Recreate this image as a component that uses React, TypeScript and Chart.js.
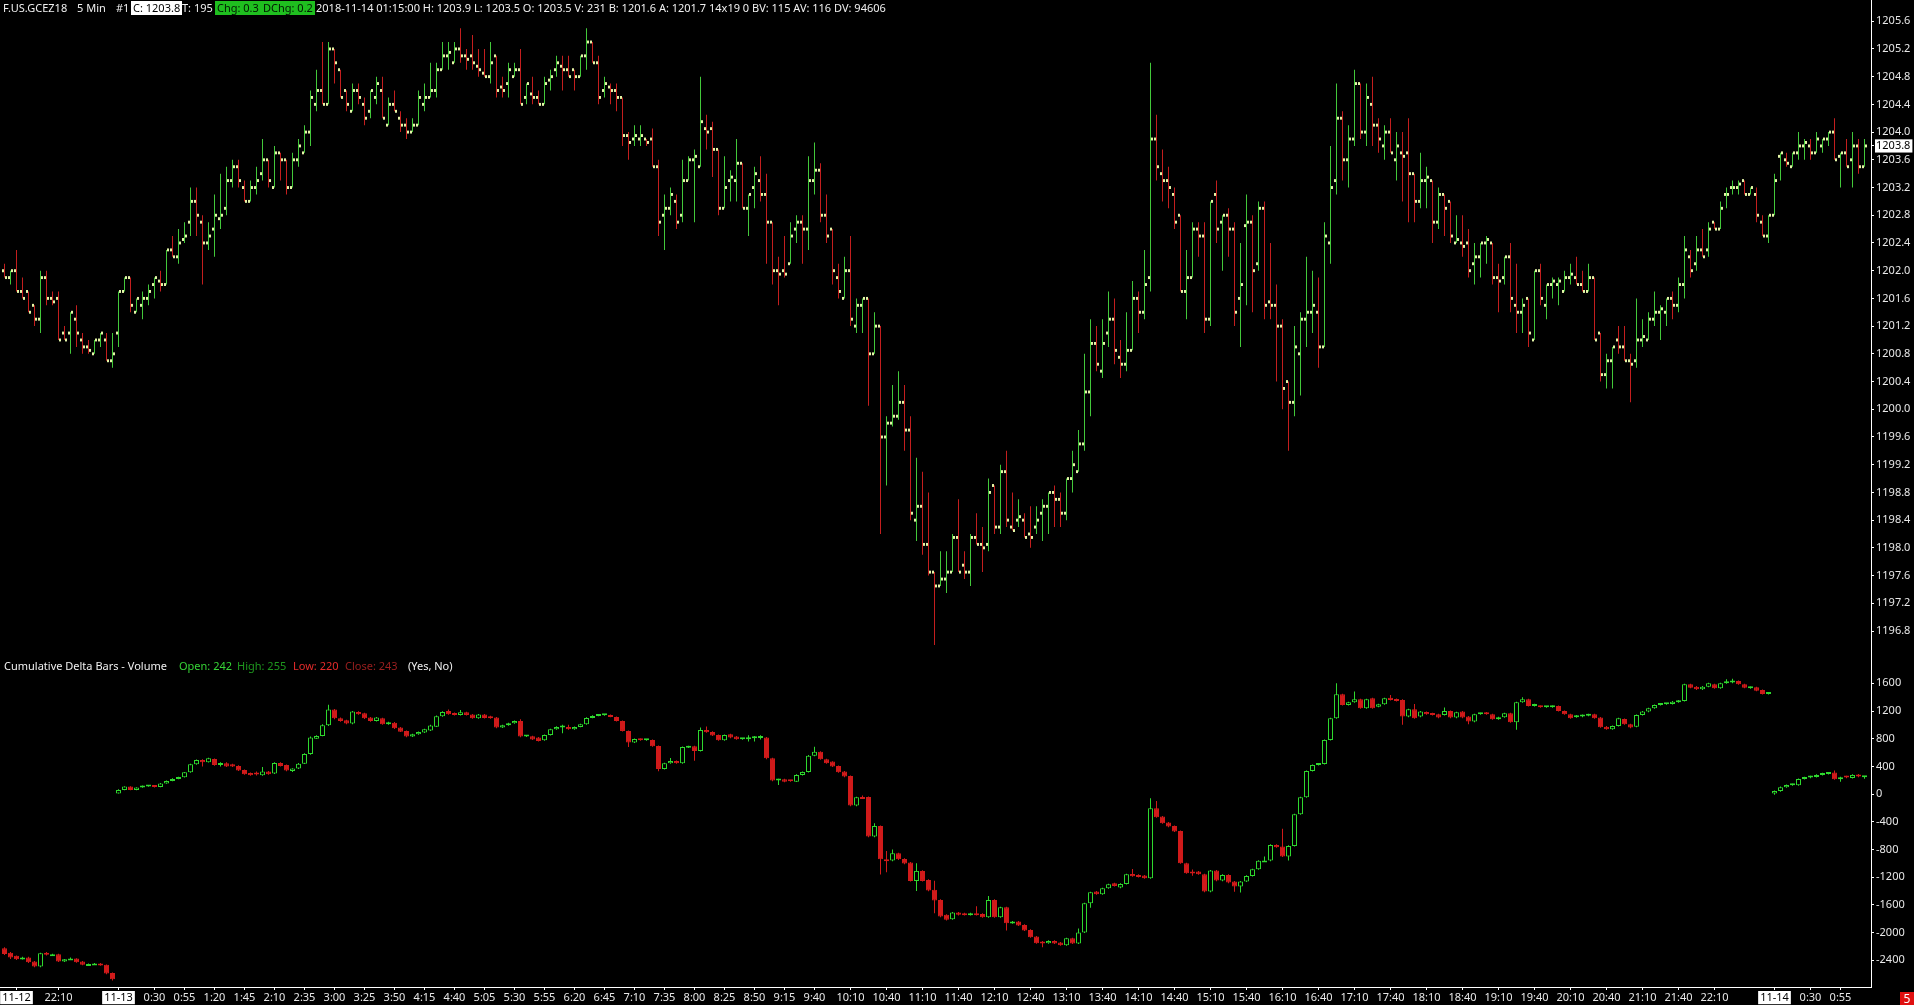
import React, { useEffect, useRef } from "react";
import { Chart, registerables } from "chart.js";

Chart.register(...registerables);

const CANVAS_W = 1914;
const CANVAS_H = 1005;
const FONT = '"Noto Sans", "DejaVu Sans", sans-serif';

const sessions = [
  { date: "11-12", start: "21:25", bars: 19 },
  { date: "11-13", start: "0:00", bars: 276 },
  { date: "11-14", start: "0:00", bars: 16 },
];

const categories: string[] = sessions.flatMap((s) => {
  const [h, m] = s.start.split(":").map(Number);
  return Array.from({ length: s.bars }, (_, k) => {
    const t = h * 60 + m + 5 * k;
    return `${s.date} ${Math.floor(t / 60)}:${String(t % 60).padStart(2, "0")}`;
  });
});

const day13TickTimes = [
  "0:30", "0:55", "1:20", "1:45", "2:10", "2:35", "3:00", "3:25", "3:50", "4:15", "4:40", "5:05",
  "5:30", "5:55", "6:20", "6:45", "7:10", "7:35", "8:00", "8:25", "8:50", "9:15", "9:40", "10:10",
  "10:40", "11:10", "11:40", "12:10", "12:40", "13:10", "13:40", "14:10", "14:40", "15:10", "15:40",
  "16:10", "16:40", "17:10", "17:40", "18:10", "18:40", "19:10", "19:40", "20:10", "20:40", "21:10",
  "21:40", "22:10",
];

const xAxisTicks: [string, string][] = [
  ["11-12 21:35", "11-12"],
  ["11-12 22:10", "22:10"],
  ["11-13 0:00", "11-13"],
  ...day13TickTimes.map((t) => [`11-13 ${t}`, t] as [string, string]),
  ["11-14 0:00", "11-14"],
  ["11-14 0:30", "0:30"],
  ["11-14 0:55", "0:55"],
];

const priceOpen = [
  1202.0, 1201.9, 1202.0, 1201.7, 1201.7, 1201.5, 1201.3, 1201.9, 1201.6, 1201.6,
  1201.1, 1201.1, 1201.3, 1201.0, 1200.9, 1200.8, 1201.0, 1201.0, 1200.7, 1201.1,
  1201.7, 1201.9, 1201.4, 1201.5, 1201.6, 1201.8, 1201.85, 1201.8, 1202.3, 1202.2,
  1202.45, 1202.7, 1203.0, 1202.7, 1202.4, 1202.6, 1202.75, 1202.9, 1203.3, 1203.5,
  1203.2, 1203.0, 1203.2, 1203.4, 1203.6, 1203.2, 1203.7, 1203.6, 1203.2, 1203.6,
  1203.7, 1204.0, 1204.4, 1204.6, 1204.4, 1205.2, 1204.9, 1204.6, 1204.3, 1204.6,
  1204.4, 1204.3, 1204.5, 1204.6, 1204.1, 1204.4, 1204.2, 1204.1, 1204.0, 1204.1,
  1204.4, 1204.5, 1204.6, 1204.9, 1205.1, 1205.0, 1205.2, 1205.1, 1205.1, 1204.95,
  1204.85, 1204.8, 1205.1, 1204.65, 1204.7, 1204.8, 1204.9, 1204.5, 1204.55, 1204.5,
  1204.4, 1204.75, 1204.9, 1204.95, 1204.9, 1204.9, 1204.8, 1205.1, 1205.3, 1205.0,
  1204.6, 1204.65, 1204.6, 1204.5, 1203.95, 1203.9, 1203.9, 1203.9, 1203.9, 1203.5,
  1202.8, 1202.9, 1203.0, 1202.8, 1203.3, 1203.6, 1203.5, 1204.05, 1204.05, 1203.75,
  1202.9, 1203.3, 1203.3, 1203.55, 1202.9, 1203.2, 1203.3, 1203.1, 1202.7, 1202.0,
  1202.0, 1202.1, 1202.6, 1202.7, 1202.6, 1203.3, 1203.45, 1202.8, 1202.6, 1201.9,
  1201.6, 1202.0, 1201.2, 1201.5, 1201.6, 1200.8, 1201.2, 1199.6, 1199.8, 1199.9,
  1200.1, 1199.7, 1198.4, 1198.6, 1198.05, 1197.65, 1197.45, 1197.55, 1197.65, 1198.15,
  1197.75, 1197.65, 1198.15, 1198.05, 1198.05, 1198.9, 1198.3, 1199.1, 1198.3, 1198.4,
  1198.4, 1198.2, 1198.3, 1198.5, 1198.6, 1198.8, 1198.7, 1198.5, 1199.0, 1199.1,
  1199.5, 1200.25, 1200.95, 1200.55, 1201.1, 1201.3, 1200.75, 1200.65, 1200.85, 1201.6,
  1201.4, 1201.9, 1203.9, 1203.4, 1203.3, 1203.1, 1202.8, 1201.7, 1201.9, 1202.6,
  1202.5, 1201.3, 1203.1, 1202.7, 1202.8, 1202.6, 1201.6, 1202.65, 1202.7, 1202.1,
  1202.9, 1201.55, 1201.5, 1201.2, 1200.4, 1200.1, 1200.8, 1201.3, 1201.4, 1201.4,
  1200.9, 1202.4, 1203.3, 1204.2, 1203.6, 1203.9, 1204.7, 1204.0, 1204.4, 1204.1,
  1203.8, 1204.0, 1203.6, 1203.7, 1203.7, 1203.4, 1203.0, 1203.3, 1203.3, 1202.7,
  1203.1, 1203.0, 1202.4, 1202.4, 1202.4, 1202.1, 1202.2, 1202.4, 1202.4, 1201.9,
  1201.9, 1202.2, 1201.5, 1201.4, 1201.6, 1201.0, 1202.0, 1201.5, 1201.8, 1201.8,
  1201.7, 1201.9, 1201.9, 1201.8, 1201.7, 1201.9, 1201.1, 1200.5, 1200.7, 1201.0,
  1200.9, 1200.7, 1200.7, 1201.0, 1201.0, 1201.3, 1201.4, 1201.4, 1201.6, 1201.5,
  1201.8, 1202.2, 1202.1, 1202.3, 1202.3, 1202.7, 1202.6, 1203.1, 1203.2, 1203.2,
  1203.3, 1203.1, 1203.1, 1202.7, 1202.5, 1202.8, 1203.65, 1203.6, 1203.5, 1203.7,
  1203.8, 1203.8, 1203.7, 1203.8, 1203.9, 1204.0, 1203.65, 1203.7, 1203.6, 1203.8,
  1203.5,
];

const priceHigh = [
  1202.1, 1202.0, 1202.3, 1201.9, 1201.7, 1201.5, 1202.0, 1202.0, 1201.7, 1201.7,
  1201.2, 1201.4, 1201.5, 1201.1, 1201.0, 1201.0, 1201.1, 1201.1, 1201.1, 1201.7,
  1201.9, 1201.9, 1201.6, 1201.7, 1201.8, 1201.9, 1202.0, 1202.3, 1202.5, 1202.6,
  1202.7, 1203.2, 1203.2, 1202.8, 1202.7, 1203.1, 1203.4, 1203.5, 1203.6, 1203.6,
  1203.3, 1203.3, 1203.5, 1203.9, 1203.6, 1203.8, 1203.7, 1203.6, 1203.7, 1203.9,
  1204.1, 1204.6, 1204.9, 1205.3, 1205.3, 1205.2, 1204.9, 1204.6, 1204.7, 1204.7,
  1204.5, 1204.6, 1204.8, 1204.8, 1204.5, 1204.6, 1204.3, 1204.2, 1204.2, 1204.6,
  1204.7, 1205.0, 1205.0, 1205.3, 1205.3, 1205.3, 1205.5, 1205.2, 1205.4, 1205.2,
  1205.2, 1205.3, 1205.1, 1204.8, 1205.0, 1205.0, 1205.2, 1204.7, 1204.8, 1204.6,
  1204.8, 1204.9, 1205.1, 1205.1, 1205.1, 1204.9, 1205.1, 1205.5, 1205.3, 1205.1,
  1204.8, 1204.7, 1204.7, 1204.5, 1204.0, 1204.1, 1204.1, 1203.9, 1204.05, 1203.6,
  1203.1, 1203.2, 1203.1, 1203.6, 1203.65, 1203.75, 1204.8, 1204.25, 1204.15, 1203.75,
  1203.65, 1203.45, 1203.9, 1203.55, 1203.1, 1203.5, 1203.65, 1203.4, 1202.7, 1202.2,
  1202.5, 1202.7, 1202.8, 1202.8, 1203.65, 1203.85, 1203.55, 1203.1, 1202.6, 1202.1,
  1202.2, 1202.5, 1201.6, 1201.6, 1201.6, 1201.4, 1201.2, 1199.9, 1200.35, 1200.55,
  1200.35, 1199.9, 1199.3, 1199.1, 1198.8, 1197.65, 1197.95, 1197.95, 1198.2, 1198.7,
  1197.95, 1198.2, 1198.5, 1198.3, 1199.0, 1198.9, 1199.2, 1199.4, 1198.8, 1198.7,
  1198.5, 1198.6, 1198.6, 1198.7, 1198.8, 1198.9, 1198.8, 1199.0, 1199.4, 1199.7,
  1200.8, 1201.3, 1201.2, 1201.3, 1201.7, 1201.6, 1201.0, 1201.4, 1201.85, 1201.7,
  1202.3, 1205.0, 1204.25, 1203.75, 1203.5, 1203.2, 1202.8, 1202.3, 1202.7, 1202.7,
  1202.7, 1203.0, 1203.3, 1202.8, 1202.9, 1202.7, 1202.4, 1203.1, 1202.8, 1203.0,
  1203.0, 1202.4, 1201.8, 1201.3, 1200.4, 1201.2, 1201.4, 1202.2, 1202.0, 1201.9,
  1202.7, 1203.8, 1204.7, 1204.3, 1204.1, 1204.9, 1204.7, 1204.7, 1204.8, 1204.2,
  1204.1, 1204.2, 1204.0, 1204.0, 1204.2, 1203.4, 1203.7, 1203.5, 1203.3, 1203.2,
  1203.1, 1203.0, 1202.8, 1202.8, 1202.6, 1202.4, 1202.4, 1202.5, 1202.4, 1202.1,
  1202.2, 1202.4, 1202.1, 1201.6, 1201.6, 1202.0, 1202.1, 1201.8, 1201.9, 1201.9,
  1202.0, 1202.1, 1202.2, 1202.0, 1202.1, 1201.9, 1201.1, 1200.8, 1200.9, 1201.2,
  1201.2, 1200.8, 1201.6, 1201.3, 1201.4, 1201.7, 1201.5, 1201.6, 1201.7, 1201.9,
  1202.5, 1202.3, 1202.5, 1202.6, 1202.7, 1202.7, 1203.0, 1203.2, 1203.3, 1203.3,
  1203.3, 1203.2, 1203.2, 1202.8, 1202.8, 1203.4, 1203.7, 1203.7, 1203.7, 1204.0,
  1203.9, 1203.9, 1204.0, 1203.9, 1204.0, 1204.2, 1203.7, 1203.9, 1204.0, 1203.9,
  1203.9,
];

const priceLow = [
  1201.9, 1201.8, 1201.7, 1201.6, 1201.4, 1201.2, 1201.1, 1201.5, 1201.5, 1201.0,
  1201.0, 1200.8, 1200.9, 1200.8, 1200.8, 1200.8, 1200.9, 1200.7, 1200.6, 1200.9,
  1201.7, 1201.4, 1201.4, 1201.3, 1201.5, 1201.6, 1201.7, 1201.8, 1202.2, 1202.1,
  1202.4, 1202.5, 1202.5, 1201.8, 1202.3, 1202.2, 1202.6, 1202.8, 1203.2, 1203.2,
  1203.0, 1203.0, 1203.1, 1203.3, 1203.2, 1203.2, 1203.3, 1203.1, 1203.2, 1203.5,
  1203.7, 1203.8, 1204.3, 1204.4, 1204.4, 1204.7, 1204.5, 1204.3, 1204.3, 1204.4,
  1204.1, 1204.2, 1204.4, 1204.2, 1204.1, 1204.3, 1204.0, 1203.9, 1204.0, 1204.1,
  1204.3, 1204.5, 1204.5, 1204.9, 1204.9, 1205.0, 1205.0, 1204.9, 1204.9, 1204.8,
  1204.8, 1204.7, 1204.5, 1204.5, 1204.5, 1204.8, 1204.4, 1204.4, 1204.4, 1204.4,
  1204.4, 1204.6, 1204.8, 1204.6, 1204.8, 1204.6, 1204.8, 1204.9, 1205.0, 1204.4,
  1204.5, 1204.4, 1204.3, 1203.8, 1203.6, 1203.8, 1203.8, 1203.8, 1203.5, 1202.5,
  1202.3, 1202.8, 1202.6, 1202.7, 1203.3, 1202.7, 1203.5, 1203.75, 1203.35, 1202.8,
  1202.9, 1203.0, 1203.0, 1202.9, 1202.5, 1202.9, 1203.0, 1202.1, 1201.8, 1201.5,
  1201.9, 1202.1, 1202.4, 1202.1, 1202.3, 1203.1, 1202.7, 1202.4, 1201.8, 1201.6,
  1201.6, 1201.2, 1201.1, 1201.1, 1200.05, 1200.8, 1198.2, 1198.9, 1199.75, 1199.85,
  1199.4, 1198.4, 1198.1, 1197.9, 1197.6, 1196.6, 1197.45, 1197.35, 1197.65, 1197.65,
  1197.55, 1197.45, 1198.05, 1197.65, 1197.95, 1198.2, 1198.2, 1198.3, 1198.25, 1198.3,
  1198.15, 1198.0, 1198.2, 1198.1, 1198.2, 1198.3, 1198.3, 1198.4, 1198.8, 1199.1,
  1199.4, 1199.9, 1200.55, 1200.45, 1200.9, 1200.65, 1200.45, 1200.55, 1200.85, 1201.1,
  1201.3, 1201.7, 1203.3, 1203.0, 1202.9, 1202.6, 1201.7, 1201.3, 1201.9, 1202.2,
  1201.1, 1201.2, 1202.4, 1202.0, 1202.2, 1201.2, 1200.9, 1201.5, 1201.4, 1202.0,
  1201.3, 1201.3, 1200.4, 1200.0, 1199.4, 1199.9, 1200.2, 1200.9, 1201.1, 1200.6,
  1200.9, 1202.1, 1203.1, 1203.3, 1203.2, 1203.8, 1203.9, 1203.8, 1203.8, 1203.7,
  1203.6, 1203.7, 1203.3, 1203.0, 1202.7, 1202.7, 1202.9, 1202.9, 1202.4, 1202.6,
  1202.5, 1202.4, 1202.4, 1202.2, 1201.9, 1201.8, 1201.9, 1202.1, 1201.8, 1201.4,
  1201.8, 1201.4, 1201.1, 1201.1, 1200.9, 1201.0, 1201.5, 1201.3, 1201.6, 1201.5,
  1201.7, 1201.8, 1201.8, 1201.7, 1201.7, 1201.0, 1200.4, 1200.3, 1200.3, 1200.8,
  1200.7, 1200.1, 1200.6, 1200.9, 1201.0, 1201.2, 1201.0, 1201.2, 1201.3, 1201.4,
  1201.6, 1201.9, 1202.0, 1202.2, 1202.2, 1202.6, 1202.6, 1202.9, 1203.1, 1203.1,
  1203.1, 1203.1, 1202.7, 1202.5, 1202.4, 1202.8, 1203.3, 1203.5, 1203.5, 1203.6,
  1203.6, 1203.6, 1203.7, 1203.7, 1203.8, 1203.6, 1203.2, 1203.5, 1203.2, 1203.4,
  1203.5,
];

const priceClose = [
  1201.9, 1202.0, 1201.7, 1201.6, 1201.4, 1201.3, 1201.9, 1201.6, 1201.55, 1201.0,
  1201.0, 1201.4, 1201.1, 1200.9, 1200.85, 1201.0, 1201.1, 1200.7, 1200.8, 1201.7,
  1201.9, 1201.5, 1201.6, 1201.6, 1201.7, 1201.9, 1201.8, 1202.3, 1202.2, 1202.4,
  1202.5, 1203.0, 1202.8, 1202.4, 1202.5, 1202.8, 1202.8, 1203.3, 1203.5, 1203.3,
  1203.0, 1203.2, 1203.3, 1203.6, 1203.3, 1203.7, 1203.6, 1203.2, 1203.6, 1203.8,
  1204.0, 1204.5, 1204.6, 1204.4, 1205.2, 1205.0, 1204.5, 1204.4, 1204.6, 1204.5,
  1204.2, 1204.6, 1204.7, 1204.2, 1204.4, 1204.3, 1204.1, 1204.0, 1204.1, 1204.5,
  1204.5, 1204.6, 1204.9, 1205.1, 1205.15, 1205.2, 1205.1, 1205.05, 1205.0, 1204.9,
  1204.8, 1205.0, 1204.6, 1204.6, 1204.9, 1204.9, 1204.4, 1204.7, 1204.5, 1204.4,
  1204.7, 1204.8, 1205.0, 1204.9, 1204.8, 1204.8, 1205.1, 1205.3, 1205.0, 1204.5,
  1204.7, 1204.6, 1204.5, 1203.95, 1203.85, 1203.95, 1203.95, 1203.85, 1203.5, 1202.7,
  1202.9, 1203.1, 1202.7, 1203.3, 1203.6, 1203.65, 1204.15, 1204.0, 1203.75, 1202.9,
  1203.2, 1203.35, 1203.55, 1202.9, 1203.1, 1203.4, 1203.1, 1202.7, 1202.0, 1201.95,
  1201.95, 1202.5, 1202.7, 1202.6, 1203.3, 1203.45, 1202.8, 1202.5, 1202.0, 1201.7,
  1202.0, 1201.3, 1201.5, 1201.6, 1200.8, 1201.2, 1199.6, 1199.8, 1199.9, 1200.1,
  1199.7, 1198.5, 1198.6, 1198.05, 1197.65, 1197.45, 1197.55, 1197.65, 1198.15, 1197.65,
  1197.65, 1198.15, 1198.05, 1198.0, 1198.8, 1198.3, 1199.1, 1198.4, 1198.25, 1198.45,
  1198.15, 1198.15, 1198.4, 1198.6, 1198.8, 1198.7, 1198.5, 1199.0, 1199.2, 1199.5,
  1200.25, 1200.95, 1200.65, 1200.95, 1201.3, 1200.85, 1200.65, 1200.85, 1201.6, 1201.4,
  1201.8, 1203.9, 1203.5, 1203.3, 1203.2, 1202.7, 1201.7, 1201.9, 1202.6, 1202.5,
  1201.3, 1203.0, 1202.6, 1202.8, 1202.6, 1201.4, 1201.8, 1202.7, 1202.0, 1202.9,
  1201.5, 1201.5, 1201.2, 1200.3, 1200.1, 1200.9, 1201.3, 1201.4, 1201.5, 1200.9,
  1202.5, 1203.2, 1204.2, 1203.6, 1203.9, 1204.7, 1204.0, 1204.5, 1204.1, 1203.9,
  1204.0, 1203.7, 1203.8, 1203.65, 1203.4, 1203.0, 1203.3, 1203.35, 1202.7, 1203.1,
  1202.9, 1202.5, 1202.45, 1202.35, 1202.0, 1202.2, 1202.4, 1202.45, 1201.9, 1201.85,
  1202.2, 1201.6, 1201.4, 1201.5, 1201.1, 1202.0, 1201.6, 1201.8, 1201.85, 1201.85,
  1201.9, 1201.95, 1201.8, 1201.7, 1201.9, 1201.0, 1200.5, 1200.7, 1200.9, 1200.9,
  1200.7, 1200.65, 1201.0, 1201.05, 1201.3, 1201.4, 1201.45, 1201.6, 1201.5, 1201.8,
  1202.3, 1202.0, 1202.3, 1202.2, 1202.6, 1202.6, 1202.9, 1203.1, 1203.2, 1203.25,
  1203.1, 1203.2, 1202.8, 1202.5, 1202.8, 1203.3, 1203.7, 1203.55, 1203.7, 1203.8,
  1203.85, 1203.7, 1203.9, 1203.9, 1204.0, 1203.6, 1203.7, 1203.5, 1203.8, 1203.5,
  1203.8,
];

const deltaOpen = [
  -2226, -2290, -2336, -2384, -2360, -2418, -2490, -2290, -2322, -2312,
  -2418, -2384, -2375, -2418, -2466, -2452, -2447, -2466, -2582, 10,
  60, 108, 60, 94, 108, 118, 103, 152, 190, 219,
  243, 315, 431, 493, 460, 507, 421, 445, 431, 407,
  349, 306, 287, 272, 325, 296, 450, 421, 335, 368,
  440, 580, 801, 840, 994, 1220, 1095, 1066, 1018, 1186,
  1167, 1105, 1056, 1095, 1008, 1032, 960, 912, 830, 864,
  888, 917, 974, 1124, 1200, 1172, 1143, 1182, 1148, 1095,
  1148, 1124, 1105, 960, 994, 1022, 1056, 830, 835, 816,
  777, 854, 936, 960, 970, 936, 970, 1008, 1100, 1129,
  1138, 1143, 1114, 1056, 912, 744, 796, 777, 782, 696,
  363, 445, 479, 445, 671, 690, 623, 926, 898, 854,
  777, 864, 830, 792, 792, 806, 811, 816, 517, 195,
  214, 190, 180, 277, 320, 555, 610, 503, 469, 407,
  325, 262, -166, -41, -41, -614, -460, -941, -960, -854,
  -936, -989, -1254, -1109, -1239, -1383, -1528, -1744, -1807, -1711,
  -1720, -1744, -1720, -1730, -1778, -1528, -1778, -1634, -1865, -1840,
  -1889, -1961, -2057, -2130, -2153, -2120, -2144, -2182, -2081, -2158,
  -1999, -1576, -1408, -1446, -1360, -1287, -1350, -1297, -1152, -1167,
  -1177, -1215, -205, -325, -411, -460, -532, -998, -1119, -1119,
  -1157, -1408, -1104, -1249, -1167, -1263, -1335, -1263, -1181, -1085,
  -964, -960, -734, -758, -902, -748, -291, -46, 334, 421,
  436, 782, 1095, 1441, 1287, 1326, 1369, 1239, 1384, 1263,
  1297, 1393, 1374, 1360, 1119, 1225, 1119, 1186, 1167, 1153,
  1143, 1200, 1105, 1191, 1119, 1047, 1153, 1176, 1153, 1081,
  1109, 1167, 1037, 1326, 1369, 1273, 1273, 1254, 1254, 1273,
  1200, 1153, 1109, 1119, 1133, 1153, 1105, 974, 936, 984,
  1085, 1008, 974, 1143, 1191, 1239, 1287, 1297, 1302, 1326,
  1345, 1586, 1552, 1513, 1552, 1586, 1528, 1600, 1610, 1634,
  1586, 1528, 1542, 1504, 1446, 0, 43, 100, 127, 127,
  219, 238, 248, 277, 291, 311, 214, 257, 233, 282,
  242,
];

const deltaHigh = [
  -2210, -2280, -2330, -2350, -2350, -2410, -2290, -2280, -2305, -2305,
  -2380, -2360, -2370, -2410, -2448, -2440, -2440, -2460, -2575, 70,
  115, 115, 100, 125, 125, 125, 160, 198, 228, 250,
  320, 440, 500, 505, 525, 515, 460, 460, 440, 415,
  355, 312, 325, 390, 335, 460, 460, 428, 375, 450,
  590, 830, 850, 1010, 1290, 1230, 1105, 1075, 1200, 1195,
  1175, 1115, 1112, 1102, 1045, 1040, 968, 918, 870, 905,
  945, 1000, 1135, 1195, 1220, 1180, 1215, 1190, 1155, 1155,
  1156, 1132, 1112, 1002, 1030, 1064, 1080, 846, 842, 823,
  862, 944, 978, 1000, 1000, 977, 1016, 1108, 1137, 1146,
  1150, 1150, 1122, 1064, 920, 804, 804, 790, 790, 702,
  453, 520, 486, 688, 698, 697, 960, 975, 906, 862,
  862, 872, 838, 810, 850, 840, 850, 824, 525, 222,
  222, 198, 285, 328, 563, 685, 618, 510, 476, 414,
  332, 270, -38, -20, -34, -420, -452, -820, -800, -846,
  -928, -980, -1000, -1100, -1230, -1250, -1520, -1736, -1702, -1702,
  -1712, -1712, -1620, -1722, -1470, -1520, -1626, -1626, -1832, -1832,
  -1881, -1953, -2049, -2122, -2112, -2112, -2136, -2073, -2073, -1940,
  -1568, -1409, -1400, -1352, -1294, -1279, -1289, -1149, -1080, -1159,
  -1169, -60, -100, -317, -403, -452, -524, -990, -1090, -1111,
  -1149, -1096, -1096, -1159, -1159, -1255, -1255, -1173, -1077, -956,
  -900, -726, -726, -500, -740, -283, -38, 342, 429, 444,
  790, 1103, 1600, 1449, 1334, 1480, 1377, 1377, 1392, 1305,
  1392, 1430, 1382, 1368, 1233, 1300, 1199, 1194, 1175, 1161,
  1250, 1208, 1190, 1199, 1127, 1161, 1175, 1184, 1161, 1117,
  1175, 1175, 1334, 1400, 1377, 1305, 1281, 1271, 1281, 1281,
  1208, 1161, 1141, 1151, 1161, 1161, 1113, 982, 992, 1103,
  1093, 1016, 1151, 1199, 1247, 1295, 1305, 1310, 1343, 1358,
  1594, 1594, 1560, 1560, 1608, 1594, 1608, 1660, 1665, 1642,
  1594, 1555, 1550, 1512, 1464, 51, 108, 140, 150, 227,
  251, 265, 285, 309, 319, 340, 251, 265, 285, 290,
  255,
];

const deltaLow = [
  -2322, -2380, -2395, -2390, -2440, -2500, -2500, -2330, -2325, -2425,
  -2425, -2395, -2435, -2472, -2470, -2455, -2480, -2600, -2690, 0,
  55, 55, 55, 90, 105, 95, 98, 148, 185, 214,
  238, 310, 425, 400, 455, 410, 400, 390, 390, 335,
  280, 265, 270, 265, 280, 290, 400, 330, 320, 362,
  435, 570, 795, 835, 985, 1080, 1045, 1010, 1010, 1145,
  1085, 1045, 1050, 1000, 1002, 940, 895, 822, 824, 858,
  882, 910, 968, 1118, 1145, 1136, 1136, 1136, 1088, 1088,
  1092, 1088, 952, 954, 988, 1016, 822, 826, 780, 760,
  770, 848, 930, 880, 930, 930, 964, 1002, 1094, 1123,
  1132, 1108, 1050, 905, 680, 738, 770, 772, 684, 330,
  356, 440, 438, 438, 665, 480, 616, 886, 838, 770,
  770, 808, 785, 785, 760, 760, 790, 505, 185, 130,
  172, 178, 173, 270, 313, 548, 495, 438, 390, 308,
  245, -175, -175, -68, -622, -622, -1160, -1130, -968, -950,
  -1012, -1262, -1400, -1262, -1402, -1720, -1778, -1826, -1816, -1754,
  -1752, -1752, -1752, -1786, -1786, -1786, -1786, -1970, -1873, -1906,
  -1978, -2075, -2161, -2210, -2161, -2166, -2190, -2190, -2166, -2166,
  -2007, -1640, -1454, -1454, -1368, -1334, -1358, -1305, -1194, -1204,
  -1223, -1223, -342, -429, -477, -549, -1006, -1151, -1180, -1165,
  -1416, -1416, -1257, -1257, -1286, -1410, -1420, -1271, -1189, -1093,
  -968, -968, -776, -910, -960, -756, -299, -54, 326, 413,
  428, 774, 1087, 1279, 1279, 1318, 1231, 1231, 1231, 1255,
  1289, 1352, 1337, 1000, 1111, 1087, 1111, 1145, 1135, 1097,
  1135, 1097, 1097, 1097, 1010, 1039, 1145, 1145, 1073, 1073,
  1101, 1029, 930, 1318, 1265, 1265, 1246, 1246, 1246, 1192,
  1145, 1087, 1101, 1111, 1125, 1087, 957, 928, 928, 976,
  1000, 952, 966, 1135, 1183, 1231, 1279, 1289, 1294, 1318,
  1337, 1529, 1505, 1505, 1544, 1520, 1520, 1592, 1602, 1578,
  1529, 1520, 1486, 1438, 1438, -8, 35, 92, 119, 119,
  211, 230, 240, 269, 283, 206, 180, 230, 225, 245,
  220,
];

const deltaClose = [
  -2308, -2360, -2384, -2360, -2428, -2490, -2298, -2320, -2312, -2418,
  -2384, -2375, -2428, -2466, -2452, -2447, -2476, -2591, -2673, 60,
  108, 60, 94, 118, 118, 103, 152, 190, 219, 243,
  315, 431, 493, 460, 517, 421, 440, 397, 397, 340,
  287, 272, 282, 325, 287, 450, 407, 339, 368, 440,
  580, 816, 840, 994, 1220, 1095, 1056, 1018, 1191, 1153,
  1095, 1056, 1105, 1008, 1032, 950, 902, 830, 864, 898,
  936, 989, 1124, 1186, 1153, 1143, 1182, 1143, 1095, 1148,
  1100, 1095, 960, 994, 1022, 1056, 830, 840, 787, 768,
  854, 936, 970, 970, 936, 970, 1008, 1100, 1129, 1138,
  1143, 1114, 1056, 912, 744, 796, 777, 782, 691, 363,
  445, 479, 445, 681, 690, 623, 926, 893, 845, 777,
  854, 816, 792, 801, 816, 816, 816, 517, 195, 214,
  180, 185, 277, 320, 555, 610, 503, 445, 397, 315,
  253, -166, -46, -60, -614, -460, -941, -950, -854, -941,
  -1003, -1254, -1109, -1254, -1393, -1537, -1768, -1816, -1711, -1744,
  -1744, -1720, -1744, -1778, -1528, -1778, -1634, -1865, -1840, -1898,
  -1970, -2067, -2153, -2153, -2120, -2158, -2182, -2081, -2158, -1999,
  -1576, -1417, -1446, -1360, -1302, -1326, -1297, -1157, -1186, -1196,
  -1215, -205, -334, -421, -469, -541, -998, -1143, -1128, -1157,
  -1408, -1104, -1249, -1167, -1278, -1335, -1263, -1181, -1085, -964,
  -960, -734, -768, -902, -748, -291, -46, 334, 421, 436,
  782, 1095, 1441, 1287, 1326, 1369, 1239, 1369, 1239, 1297,
  1384, 1360, 1345, 1119, 1225, 1095, 1191, 1153, 1143, 1105,
  1200, 1105, 1182, 1105, 1047, 1153, 1167, 1153, 1081, 1109,
  1167, 1037, 1326, 1369, 1273, 1297, 1254, 1263, 1273, 1200,
  1153, 1095, 1133, 1143, 1153, 1095, 965, 936, 984, 1095,
  1008, 960, 1143, 1191, 1239, 1287, 1297, 1302, 1335, 1350,
  1586, 1537, 1513, 1552, 1600, 1528, 1600, 1624, 1634, 1586,
  1537, 1547, 1494, 1446, 1456, 43, 100, 132, 142, 219,
  243, 257, 277, 301, 311, 214, 243, 238, 277, 253,
  243,
];

const X_MIN = -0.75;
const X_MAX = 311.0833;
const PRICE_MIN = 1196.454;
const PRICE_MAX = 1205.906;
const PRICE_STEP = 0.4;
const DELTA_MIN = -2785.6;
const DELTA_MAX = 2008.7;
const DELTA_STEP = 400;

const PRICE_UP = "#42c83a";
const PRICE_DOWN = "#c41e1e";
const OC_TICK = "#e5f6a8";
const DELTA_UP = "#2ed82e";
const DELTA_DOWN = "#d01a1a";
const AXIS_TEXT = "#e8e8e8";
const TICK_HALF = 0.021;

const lastPrice = priceClose[priceClose.length - 1];
const tickTextByIndex = new Map<number, string>(
  xAxisTicks.map(([key, text]) => [categories.indexOf(key), text])
);
const dateTickIdx = new Set<number>(
  xAxisTicks.filter(([, t]) => t.includes("-")).map(([key]) => categories.indexOf(key))
);
const isLast = (v: number) => Math.abs(v - lastPrice) < 1e-6;

function stepTicks(min: number, max: number, step: number, decimals: number) {
  const out: { value: number }[] = [];
  for (let k = Math.ceil(min / step - 1e-9); k * step <= max + 1e-9; k++) {
    out.push({ value: +(k * step).toFixed(decimals) });
  }
  return out;
}

function buildConfig(): any {
  const idx = categories.map((_, i) => i);
  const priceUp = idx.map((i) => priceClose[i] >= priceOpen[i]);
  const deltaUp = idx.map((i) => deltaClose[i] >= deltaOpen[i]);
  const baseBar = { grouped: false, inflateAmount: 0, borderWidth: 0 };
  const axisGrid = { display: true, drawOnChartArea: false, drawTicks: true, tickLength: 3, color: "#ffffff", offset: false };
  const axisBorder = { display: true, color: "#ffffff", width: 1 };

  return {
    type: "bar",
    data: {
      datasets: [
        {
          ...baseBar, label: "Open", yAxisID: "yPrice", order: 0, barThickness: 2, backgroundColor: OC_TICK,
          data: idx.map((i) => ({ x: i - 0.25, y: [priceOpen[i] - TICK_HALF, priceOpen[i] + TICK_HALF] })),
        },
        {
          ...baseBar, label: "Close", yAxisID: "yPrice", order: 0, barThickness: 2, backgroundColor: OC_TICK,
          data: idx.map((i) => ({ x: i + 0.25, y: [priceClose[i] - TICK_HALF, priceClose[i] + TICK_HALF] })),
        },
        {
          ...baseBar, label: "High-Low", yAxisID: "yPrice", order: 1, barThickness: 1,
          backgroundColor: idx.map((i) => (priceUp[i] ? PRICE_UP : PRICE_DOWN)),
          data: idx.map((i) => ({ x: i, y: [priceLow[i], priceHigh[i]] })),
        },
        {
          ...baseBar, label: "Cumulative Delta body", yAxisID: "yDelta", order: 0, barThickness: 5,
          borderWidth: 1, borderSkipped: false, minBarLength: 2,
          backgroundColor: idx.map((i) => (deltaUp[i] ? "#000000" : DELTA_DOWN)),
          borderColor: idx.map((i) => (deltaUp[i] ? DELTA_UP : DELTA_DOWN)),
          data: idx.map((i) => ({
            x: i,
            y: [Math.min(deltaOpen[i], deltaClose[i]), Math.max(deltaOpen[i], deltaClose[i])],
          })),
        },
        {
          ...baseBar, label: "Cumulative Delta range", yAxisID: "yDelta", order: 1, barThickness: 1,
          backgroundColor: idx.map((i) => (deltaUp[i] ? DELTA_UP : DELTA_DOWN)),
          data: idx.map((i) => ({ x: i, y: [deltaLow[i], deltaHigh[i]] })),
        },
      ],
    },
    options: {
      animation: false,
      responsive: false,
      devicePixelRatio: 1,
      events: [],
      layout: { padding: 0, autoPadding: false },
      plugins: { legend: { display: false }, tooltip: { enabled: false }, title: { display: false } },
      scales: {
        x: {
          type: "linear",
          position: "bottom",
          offset: false,
          bounds: "data",
          min: X_MIN,
          max: X_MAX,
          afterBuildTicks: (scale: any) => {
            scale.ticks = xAxisTicks.map(([key]) => ({ value: categories.indexOf(key) }));
          },
          afterFit: (scale: any) => {
            scale.height = 18;
            scale.paddingLeft = 0;
            scale.paddingRight = 0;
          },
          grid: axisGrid,
          border: axisBorder,
          ticks: {
            autoSkip: false,
            maxRotation: 0,
            minRotation: 0,
            padding: 1,
            font: { family: FONT, size: 11 },
            color: (ctx: any) => (dateTickIdx.has(ctx.tick?.value) ? "#000000" : AXIS_TEXT),
            showLabelBackdrop: (ctx: any) => dateTickIdx.has(ctx.tick?.value),
            backdropColor: "#ffffff",
            backdropPadding: { top: 0, bottom: 0, left: 2, right: 2 },
            callback: (v: any) => tickTextByIndex.get(Number(v)) ?? "",
          },
        },
        yPrice: {
          type: "linear",
          axis: "y",
          position: "right",
          stack: "panels",
          stackWeight: 655,
          offset: false,
          min: PRICE_MIN,
          max: PRICE_MAX,
          afterBuildTicks: (scale: any) => {
            const t = stepTicks(PRICE_MIN, PRICE_MAX, PRICE_STEP, 1).filter((k) => !isLast(k.value));
            t.push({ value: lastPrice });
            scale.ticks = t;
          },
          afterFit: (scale: any) => {
            scale.width = 43;
            scale.paddingTop = 0;
            scale.paddingBottom = 0;
          },
          grid: axisGrid,
          border: axisBorder,
          ticks: {
            autoSkip: false,
            padding: 2,
            font: { family: FONT, size: 11 },
            color: (ctx: any) => (ctx.tick && isLast(ctx.tick.value) ? "#000000" : AXIS_TEXT),
            showLabelBackdrop: (ctx: any) => !!(ctx.tick && isLast(ctx.tick.value)),
            backdropColor: "#ffffff",
            backdropPadding: { top: 0, bottom: 0, left: 1, right: 2 },
            callback: (v: any) => Number(v).toFixed(1),
          },
        },
        yDelta: {
          type: "linear",
          axis: "y",
          position: "right",
          stack: "panels",
          stackWeight: 332,
          offset: false,
          min: DELTA_MIN,
          max: DELTA_MAX,
          afterBuildTicks: (scale: any) => {
            scale.ticks = stepTicks(DELTA_MIN, DELTA_MAX, DELTA_STEP, 0).filter((k) => k.value <= DELTA_MAX - 300);
          },
          afterFit: (scale: any) => {
            scale.width = 43;
            scale.paddingTop = 0;
            scale.paddingBottom = 0;
          },
          grid: axisGrid,
          border: axisBorder,
          ticks: {
            autoSkip: false,
            padding: 2,
            font: { family: FONT, size: 11 },
            color: AXIS_TEXT,
            callback: (v: any) => String(Math.round(Number(v))),
          },
        },
      },
    },
  };
}

const abs = (left: number, top: number, extra: React.CSSProperties = {}): React.CSSProperties => ({
  position: "absolute",
  left,
  top,
  whiteSpace: "pre",
  ...extra,
});

export default function App() {
  const canvasRef = useRef<HTMLCanvasElement | null>(null);

  useEffect(() => {
    document.body.style.margin = "0";
    document.body.style.background = "#000";
    const chart = new Chart(canvasRef.current as HTMLCanvasElement, buildConfig());
    return () => chart.destroy();
  }, []);

  const lineStyle: React.CSSProperties = { font: `11px ${FONT}`, lineHeight: "14px", color: "#f0f0f0" };
  const greenBox: React.CSSProperties = { background: "#1fbf1f", color: "#021a02", padding: "0 2px" };

  return (
    <div style={{ position: "fixed", left: 0, top: 0, width: CANVAS_W, height: CANVAS_H, background: "#000", overflow: "hidden" }}>
      <canvas ref={canvasRef} width={CANVAS_W} height={CANVAS_H} style={{ display: "block" }} />

      <div style={{ ...lineStyle, position: "absolute", left: 0, top: 0 }}>
        <span style={abs(3, 1)}>F.US.GCEZ18</span>
        <span style={abs(77, 1)}>5 Min</span>
        <span style={abs(116, 1)}>#1</span>
        <span style={abs(131, 1, { background: "#ffffff", color: "#000", padding: "0 2px" })}>C: 1203.8</span>
        <span style={abs(182, 1)}>T: 195</span>
        <span style={abs(215, 1, greenBox)}>Chg: 0.3</span>
        <span style={abs(261, 1, greenBox)}>DChg: 0.2</span>
        <span style={abs(316, 1)}>
          2018-11-14 01:15:00 H: 1203.9 L: 1203.5 O: 1203.5 V: 231 B: 1201.6 A: 1201.7 14x19 0 BV: 115 AV: 116 DV: 94606
        </span>
      </div>

      <div style={{ ...lineStyle, position: "absolute", left: 0, top: 0 }}>
        <span style={abs(4, 659)}>Cumulative Delta Bars - Volume</span>
        <span style={abs(179, 659, { color: "#36d436" })}>Open: 242</span>
        <span style={abs(237, 659, { color: "#1e961e" })}>High: 255</span>
        <span style={abs(293, 659, { color: "#e52b2b" })}>Low: 220</span>
        <span style={abs(345, 659, { color: "#9c1f1f" })}>Close: 243</span>
        <span style={abs(408, 659)}>(Yes, No)</span>
      </div>

      <div style={{ position: "absolute", left: 1900, top: 992, width: 14, height: 13, background: "#e01010", color: "#ffffff", font: `12px ${FONT}`, lineHeight: "13px", textAlign: "center" }}>
        5
      </div>
    </div>
  );
}
